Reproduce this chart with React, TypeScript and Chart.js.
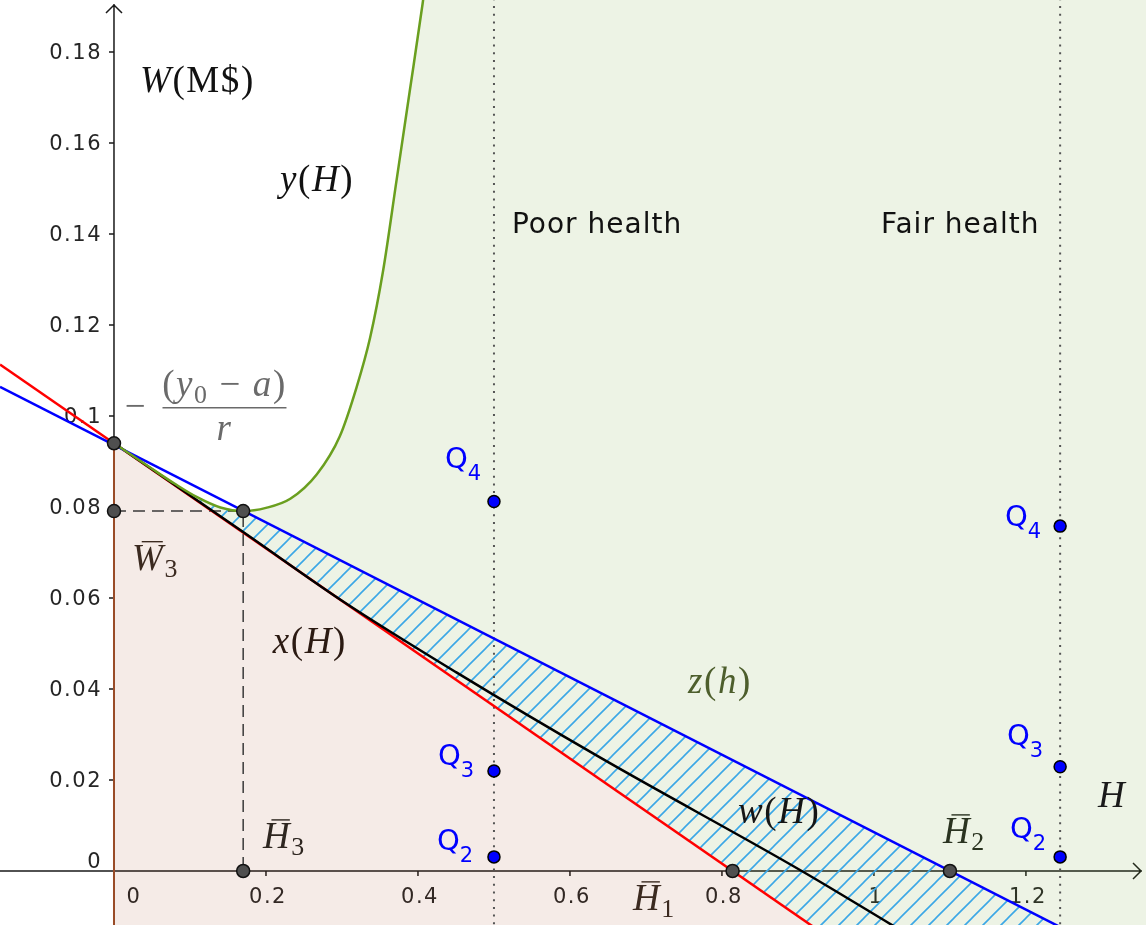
import React, { useEffect, useRef } from 'react';
import { Chart, registerables } from 'chart.js';

Chart.register(...registerables);

// ---- axis ranges ----
const X_MIN = -0.15;
const X_MAX = 1.358;
const Y_MIN = -0.011868;
const Y_MAX = 0.19143;

// ---- ticks ----
const xTickValues = [0.2, 0.4, 0.6, 0.8, 1, 1.2];
const xTickLabels = ['0.2', '0.4', '0.6', '0.8', '1', '1.2'];
const yTickValues = [0.02, 0.04, 0.06, 0.08, 0.1, 0.12, 0.14, 0.16, 0.18];
const yTickLabels = ['0.02', '0.04', '0.06', '0.08', '0.1', '0.12', '0.14', '0.16', '0.18'];

// ---- y(H) green curve ----
const yCurveH = [0, 0.05, 0.08, 0.11, 0.14, 0.17, 0.2, 0.232, 0.267, 0.297, 0.319, 0.337, 0.354, 0.372, 0.389, 0.406, 0.412];
const yCurveW = [0.094, 0.0884, 0.0851, 0.0821, 0.0799, 0.0791, 0.0798, 0.0818, 0.0872, 0.0955, 0.1062, 0.1172, 0.1318, 0.152, 0.1712, 0.1905, 0.198];
// ---- x(H) red line ----
const xLineH = [-0.15, 0.95];
const xLineW = [0.1113, -0.0157];
// ---- z(h) blue line ----
const zLineH = [-0.15, 1.36];
const zLineW = [0.1064, -0.0221];
// ---- w(H) black curve ----
const wCurveH = [0, 0.17, 0.3, 0.45, 0.64, 0.905, 1.03];
const wCurveW = [0.094, 0.0745, 0.0594, 0.0437, 0.0249, 0, -0.0125];
// ---- health levels (dotted verticals) and Q points ----
const healthH = [0.5, 1.245];
const poorQW = [0.0031, 0.022, 0.0812];
const fairQW = [0.0031, 0.0229, 0.0758];
// ---- key points ----
const keyPointH = [0, 0, 0.17, 0.17, 0.814, 1.1];
const keyPointW = [0.094, 0.0791, 0.0791, 0, 0, 0];

// ---- annotations (data coordinates, baseline-left) ----
type Run = { t: string; it?: boolean; sub?: boolean; bar?: boolean };
const mathLabels: { h: number; w: number; color: string; runs: Run[] }[] = [
  { h: 0.0342, w: 0.1712, color: '#111111', runs: [{ t: 'W', it: true }, { t: '(M$)' }] },
  { h: 0.2184, w: 0.1495, color: '#111111', runs: [{ t: 'y', it: true }, { t: '(' }, { t: 'H', it: true }, { t: ')' }] },
  { h: 0.209, w: 0.0479, color: '#2b1a12', runs: [{ t: 'x', it: true }, { t: '(' }, { t: 'H', it: true }, { t: ')' }] },
  { h: 0.7553, w: 0.0391, color: '#4d5e2c', runs: [{ t: 'z', it: true }, { t: '(' }, { t: 'h', it: true }, { t: ')' }] },
  { h: 0.821, w: 0.01055, color: '#151515', runs: [{ t: 'w', it: true }, { t: '(' }, { t: 'H', it: true }, { t: ')' }] },
  { h: 0.0237, w: 0.0662, color: '#3b2a20', runs: [{ t: 'W', it: true, bar: true }, { t: '3', sub: true }] },
  { h: 0.196, w: 0.00505, color: '#2e2620', runs: [{ t: 'H', it: true, bar: true }, { t: '3', sub: true }] },
  { h: 0.6829, w: -0.00857, color: '#3b2a20', runs: [{ t: 'H', it: true, bar: true }, { t: '1', sub: true }] },
  { h: 1.0908, w: 0.00615, color: '#2a3320', runs: [{ t: 'H', it: true, bar: true }, { t: '2', sub: true }] },
  { h: 1.2947, w: 0.01407, color: '#1a1a1a', runs: [{ t: 'H', it: true }] },
];
const qLabels = [
  { h: 0.4355, w: 0.0886, n: '4' },
  { h: 0.4263, w: 0.0233, n: '3' },
  { h: 0.425, w: 0.0046, n: '2' },
  { h: 1.1724, w: 0.0758, n: '4' },
  { h: 1.175, w: 0.0277, n: '3' },
  { h: 1.179, w: 0.00725, n: '2' },
];
const textLabels = [
  { h: 0.5237, w: 0.1402, t: 'Poor health' },
  { h: 1.0092, w: 0.1402, t: 'Fair health' },
];
const fraction = { h: 0.1454, w: 0.1018, minusH: 0.029 };

const SANS = '"DejaVu Sans", "Noto Sans", sans-serif';
const SERIF = '"Liberation Serif", "DejaVu Serif", serif';
const MATH_SIZE = 37;

const pts = (hs: number[], ws: number[]) => hs.map((h, i) => ({ x: h, y: ws[i] }));

function drawRuns(ctx: any, x: number, y: number, runs: Run[], size: number, color: string) {
  let cx = x;
  ctx.fillStyle = color;
  ctx.strokeStyle = color;
  ctx.textAlign = 'left';
  ctx.textBaseline = 'alphabetic';
  for (const r of runs) {
    const s = r.sub ? size * 0.7 : size;
    ctx.font = `${r.it ? 'italic ' : ''}${s}px ${SERIF}`;
    const dy = r.sub ? size * 0.2 : 0;
    ctx.fillText(r.t, cx, y + dy);
    const wdt = ctx.measureText(r.t).width;
    if (r.bar) {
      ctx.lineWidth = 1.4;
      ctx.beginPath();
      const by = y - size * 0.76;
      ctx.moveTo(cx + wdt * 0.3, by);
      ctx.lineTo(cx + wdt * 0.95, by);
      ctx.stroke();
    }
    cx += wdt;
  }
}

function makeHatch(): any {
  const S = 18;
  const c = document.createElement('canvas');
  c.width = S;
  c.height = S;
  const g = c.getContext('2d');
  if (!g) return 'rgba(58,166,230,0.3)';
  g.strokeStyle = '#3ba7e6';
  g.lineWidth = 1.6;
  g.beginPath();
  g.moveTo(0, S);
  g.lineTo(S, 0);
  g.moveTo(-2, 2);
  g.lineTo(2, -2);
  g.moveTo(S - 2, S + 2);
  g.lineTo(S + 2, S - 2);
  g.stroke();
  return g.createPattern(c, 'repeat');
}

const axesPlugin = {
  id: 'geoAxes',
  beforeDatasetsDraw(chart: any) {
    const { ctx, chartArea } = chart;
    const xs = chart.scales.x;
    const ys = chart.scales.y;
    const x0 = xs.getPixelForValue(0);
    const y0 = ys.getPixelForValue(0);
    ctx.save();
    ctx.strokeStyle = '#1a1a1a';
    ctx.lineWidth = 1.5;
    // x axis + arrow
    ctx.beginPath();
    ctx.moveTo(chartArea.left, y0);
    ctx.lineTo(chartArea.right - 4, y0);
    ctx.moveTo(chartArea.right - 13, y0 - 8);
    ctx.lineTo(chartArea.right - 5, y0);
    ctx.lineTo(chartArea.right - 13, y0 + 8);
    // y axis + arrow
    ctx.moveTo(x0, chartArea.bottom);
    ctx.lineTo(x0, chartArea.top + 4);
    ctx.moveTo(x0 - 8, chartArea.top + 13);
    ctx.lineTo(x0, chartArea.top + 5);
    ctx.lineTo(x0 + 8, chartArea.top + 13);
    ctx.stroke();
    // ticks
    ctx.beginPath();
    xTickValues.forEach((v) => {
      const px = xs.getPixelForValue(v);
      ctx.moveTo(px, y0);
      ctx.lineTo(px, y0 + 5);
    });
    yTickValues.forEach((v) => {
      const py = ys.getPixelForValue(v);
      ctx.moveTo(x0, py);
      ctx.lineTo(x0 - 5, py);
    });
    ctx.stroke();
    // labels
    ctx.fillStyle = '#262626';
    ctx.font = `21px ${SANS}`;
    ctx.letterSpacing = '1.5px';
    ctx.textAlign = 'center';
    ctx.textBaseline = 'alphabetic';
    xTickValues.forEach((v, i) => {
      ctx.fillText(xTickLabels[i], xs.getPixelForValue(v) + 2, y0 + 32);
    });
    ctx.fillText('0', x0 + 20, y0 + 32);
    ctx.textAlign = 'right';
    ctx.textBaseline = 'middle';
    yTickValues.forEach((v, i) => {
      ctx.fillText(yTickLabels[i], x0 - 12, ys.getPixelForValue(v) + 2);
    });
    ctx.textBaseline = 'alphabetic';
    ctx.fillText('0', x0 - 12, y0 - 3);
    ctx.restore();
  },
};

const labelsPlugin = {
  id: 'geoLabels',
  afterDatasetsDraw(chart: any) {
    const { ctx } = chart;
    const xs = chart.scales.x;
    const ys = chart.scales.y;
    ctx.save();
    ctx.letterSpacing = '1.6px';
    mathLabels.forEach((l) => {
      drawRuns(ctx, xs.getPixelForValue(l.h), ys.getPixelForValue(l.w), l.runs, MATH_SIZE, l.color);
    });
    // fraction  -(y0 - a)/r
    const fx = xs.getPixelForValue(fraction.h);
    const fy = ys.getPixelForValue(fraction.w);
    const gray = '#6a6a6a';
    ctx.fillStyle = gray;
    ctx.strokeStyle = gray;
    ctx.textAlign = 'center';
    ctx.font = `${MATH_SIZE}px ${SERIF}`;
    ctx.fillText('\u2212', xs.getPixelForValue(fraction.minusH), fy + 10);
    ctx.lineWidth = 1.5;
    ctx.beginPath();
    ctx.moveTo(fx - 62, fy);
    ctx.lineTo(fx + 62, fy);
    ctx.stroke();
    const numRuns: Run[] = [{ t: '(' }, { t: 'y', it: true }, { t: '0', sub: true }, { t: ' \u2212 ' }, { t: 'a', it: true }, { t: ')' }];
    let nw = 0;
    numRuns.forEach((r) => {
      const s = r.sub ? MATH_SIZE * 0.7 : MATH_SIZE;
      ctx.font = `${r.it ? 'italic ' : ''}${s}px ${SERIF}`;
      nw += ctx.measureText(r.t).width;
    });
    drawRuns(ctx, fx - nw / 2, fy - 12, numRuns, MATH_SIZE, gray);
    ctx.textAlign = 'center';
    ctx.font = `italic ${MATH_SIZE}px ${SERIF}`;
    ctx.fillText('r', fx, fy + 32);

    // Q labels
    ctx.fillStyle = '#0000ff';
    ctx.textAlign = 'left';
    ctx.letterSpacing = '0px';
    qLabels.forEach((q) => {
      const px = xs.getPixelForValue(q.h);
      const py = ys.getPixelForValue(q.w);
      ctx.font = `29px ${SANS}`;
      ctx.fillText('Q', px, py);
      const qw = ctx.measureText('Q').width;
      ctx.font = `21px ${SANS}`;
      ctx.fillText(q.n, px + qw, py + 12);
    });
    // health labels
    ctx.fillStyle = '#111111';
    ctx.font = `28px ${SANS}`;
    ctx.letterSpacing = '1px';
    textLabels.forEach((t) => {
      ctx.fillText(t.t, xs.getPixelForValue(t.h), ys.getPixelForValue(t.w));
    });
    ctx.restore();
  },
};

if (typeof document !== 'undefined') {
  document.documentElement.style.margin = '0';
  document.body.style.margin = '0';
  document.body.style.overflow = 'hidden';
}

export default function App() {
  const canvasRef = useRef<HTMLCanvasElement | null>(null);

  useEffect(() => {
    document.body.style.margin = '0';
    const canvas = canvasRef.current;
    if (!canvas) return;

    const curvePts = pts(yCurveH, yCurveW);
    const redPts = pts(xLineH, xLineW);
    const bluePts = pts(zLineH, zLineW);
    const blackPts = pts(wCurveH, wCurveW);
    const keyPts = pts(keyPointH, keyPointW);
    const h3 = keyPointH[2];
    const bottomW = xLineW[1];

    const greenPoly = [
      ...curvePts,
      { x: X_MAX + 0.05, y: Y_MAX + 0.01 },
      { x: X_MAX + 0.05, y: Y_MIN - 0.012 },
      redPts[1],
    ];
    const pinkPoly = [redPts[1], { x: 0, y: bottomW }, { x: 0, y: yCurveW[0] }];
    const hatchPoly = [...curvePts.filter((p) => p.x <= h3), bluePts[1], redPts[1]];

    const base = { pointRadius: 0, pointHoverRadius: 0, tension: 0, fill: false };
    const layers: any[] = [
      { ...base, data: greenPoly, fill: 'shape', backgroundColor: 'rgba(110,160,40,0.12)', borderWidth: 0, borderColor: 'rgba(0,0,0,0)' },
      { ...base, data: pinkPoly, fill: 'shape', backgroundColor: 'rgba(160,60,20,0.10)', borderWidth: 2, borderColor: '#9a4c28' },
      { ...base, data: hatchPoly, fill: 'shape', backgroundColor: makeHatch(), borderWidth: 0, borderColor: 'rgba(0,0,0,0)' },
      ...healthH.map((h) => ({
        ...base,
        data: [{ x: h, y: Y_MIN - 0.01 }, { x: h, y: Y_MAX + 0.01 }],
        borderColor: '#555555',
        borderWidth: 2,
        borderDash: [2, 5.7],
      })),
      {
        ...base,
        data: [keyPts[1], keyPts[2], keyPts[3]],
        borderColor: '#3a3a3a',
        borderWidth: 1.5,
        borderDash: [12, 7],
      },
      { ...base, data: redPts, borderColor: '#ff0000', borderWidth: 2.5 },
      { ...base, data: blackPts, borderColor: '#000000', borderWidth: 2.5, cubicInterpolationMode: 'monotone' },
      { ...base, data: bluePts, borderColor: '#0000ff', borderWidth: 2.5 },
      { ...base, data: curvePts, borderColor: '#6a9f1f', borderWidth: 2.5, cubicInterpolationMode: 'monotone' },
      {
        data: [...poorQW.map((w) => ({ x: healthH[0], y: w })), ...fairQW.map((w) => ({ x: healthH[1], y: w }))],
        showLine: false,
        pointRadius: 6,
        pointHoverRadius: 6,
        pointBackgroundColor: '#0000ff',
        pointBorderColor: '#000000',
        pointBorderWidth: 1.5,
      },
      {
        data: keyPts,
        showLine: false,
        pointRadius: 6.5,
        pointHoverRadius: 6.5,
        pointBackgroundColor: '#4f4f4f',
        pointBorderColor: '#111111',
        pointBorderWidth: 1.5,
      },
    ];
    const n = layers.length;
    layers.forEach((d, i) => {
      d.order = n - i;
    });

    const chart = new Chart(canvas, {
      type: 'line',
      data: { datasets: layers },
      options: {
        responsive: false,
        animation: false,
        devicePixelRatio: 1,
        events: [],
        layout: { padding: 0, autoPadding: false },
        plugins: { legend: { display: false }, tooltip: { enabled: false } },
        scales: {
          x: { type: 'linear', min: X_MIN, max: X_MAX, display: false },
          y: { type: 'linear', min: Y_MIN, max: Y_MAX, display: false },
        },
      } as any,
      plugins: [axesPlugin, labelsPlugin] as any,
    });
    return () => chart.destroy();
  }, []);

  return (
    <div style={{ position: 'fixed', left: 0, top: 0, width: 1146, height: 925, background: '#ffffff' }}>
      <canvas ref={canvasRef} width={1146} height={925} style={{ width: 1146, height: 925, display: 'block' }} />
    </div>
  );
}
